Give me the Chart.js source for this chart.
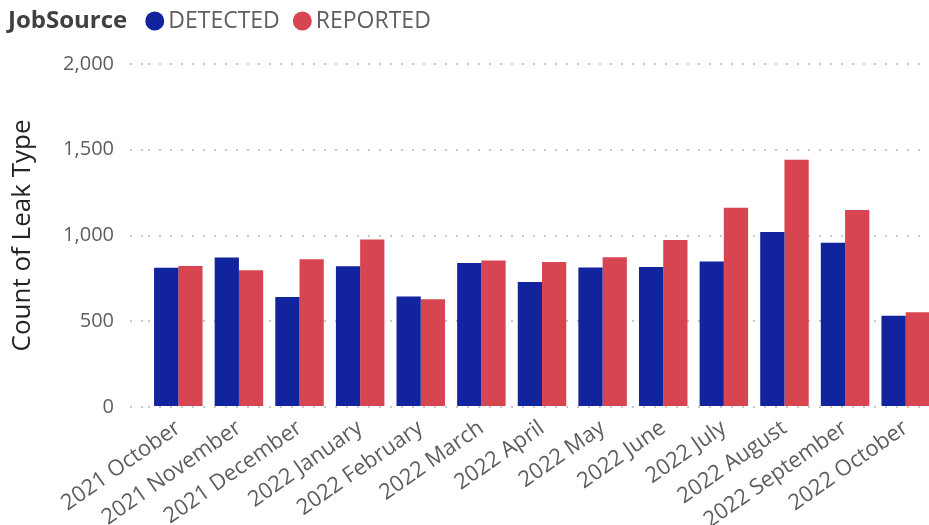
<!DOCTYPE html>
<html>
<head>
<meta charset="utf-8">
<script src="https://cdn.jsdelivr.net/npm/chart.js@4.4.1/dist/chart.umd.min.js"></script>
<style>
  body { margin: 0; background: #fff; overflow: hidden; }
  #wrap { width: 936px; height: 525px; }
</style>
</head>
<body>
<div id="wrap"><canvas id="leakChart" width="936" height="525"></canvas></div>
<script>
const months = ['2021 October', '2021 November', '2021 December', '2022 January', '2022 February',
  '2022 March', '2022 April', '2022 May', '2022 June', '2022 July', '2022 August',
  '2022 September', '2022 October'];
const detected = [812, 871, 642, 821, 644, 840, 729, 814, 816, 849, 1020, 958, 532];
const reported = [822, 797, 862, 976, 628, 854, 845, 873, 974, 1162, 1442, 1149, 552];
const yTicks = [0, 500, 1000, 1500, 2000];

const blue = '#12239E';
const red = '#D64550';
const fontFam = "'Segoe UI', 'Open Sans', 'Noto Sans', sans-serif";

// legend drawn inline: title then dots + names, like the original
const inlineLegend = {
  id: 'inlineLegend',
  afterDraw(chart) {
    const c = chart.ctx;
    const y = 21;
    c.save();
    c.textBaseline = 'middle';
    c.font = 'bold 24px ' + fontFam;
    c.fillStyle = '#404040';
    c.fillText('JobSource', 8, y);
    let x = 8 + c.measureText('JobSource').width + 18;
    c.font = '23px ' + fontFam;
    chart.data.datasets.forEach(ds => {
      c.fillStyle = ds.backgroundColor;
      c.beginPath();
      c.arc(x + 9.5, y, 9.5, 0, Math.PI * 2);
      c.fill();
      x += 23;
      c.fillStyle = '#605E5C';
      c.fillText(ds.label, x, y);
      x += c.measureText(ds.label).width + 13;
    });
    c.restore();
  }
};

const chart = new Chart(document.getElementById('leakChart'), {
  type: 'bar',
  data: {
    labels: months,
    datasets: [
      { label: 'DETECTED', data: detected, backgroundColor: blue },
      { label: 'REPORTED', data: reported, backgroundColor: red }
    ]
  },
  options: {
    responsive: false,
    animation: false,
    layout: { padding: { top: 64, right: 0, left: 0, bottom: 0 } },
    datasets: { bar: { categoryPercentage: 0.8, barPercentage: 1.0 } },
    plugins: {
      legend: { display: false },
      tooltip: { enabled: false }
    },
    scales: {
      x: {
        grid: { display: false },
        border: { display: false },
        ticks: {
          color: '#605E5C',
          font: { family: fontFam, size: 22 },
          minRotation: 35,
          maxRotation: 35,
          padding: 0
        },
        afterFit: s => { s.height = 118; }
      },
      y: {
        min: 0,
        max: 2000,
        afterBuildTicks: s => { s.ticks = yTicks.map(v => ({ value: v })); },
        border: { display: false, dash: [2, 9] },
        grid: {
          color: '#C8C8C8',
          lineWidth: 2,
          tickLength: 18,
          tickColor: '#C8C8C8',
          tickBorderDash: [2, 9]
        },
        ticks: {
          color: '#605E5C',
          font: { family: fontFam, size: 20 },
          padding: 16,
          callback: v => v.toLocaleString('en-US')
        },
        title: {
          display: true,
          text: 'Count of Leak Type',
          color: '#252423',
          font: { family: fontFam, size: 26 },
          padding: { top: 7, bottom: 0 }
        },
        afterFit: s => { s.width = 148; }
      }
    }
  },
  plugins: [inlineLegend]
});
</script>
</body>
</html>
